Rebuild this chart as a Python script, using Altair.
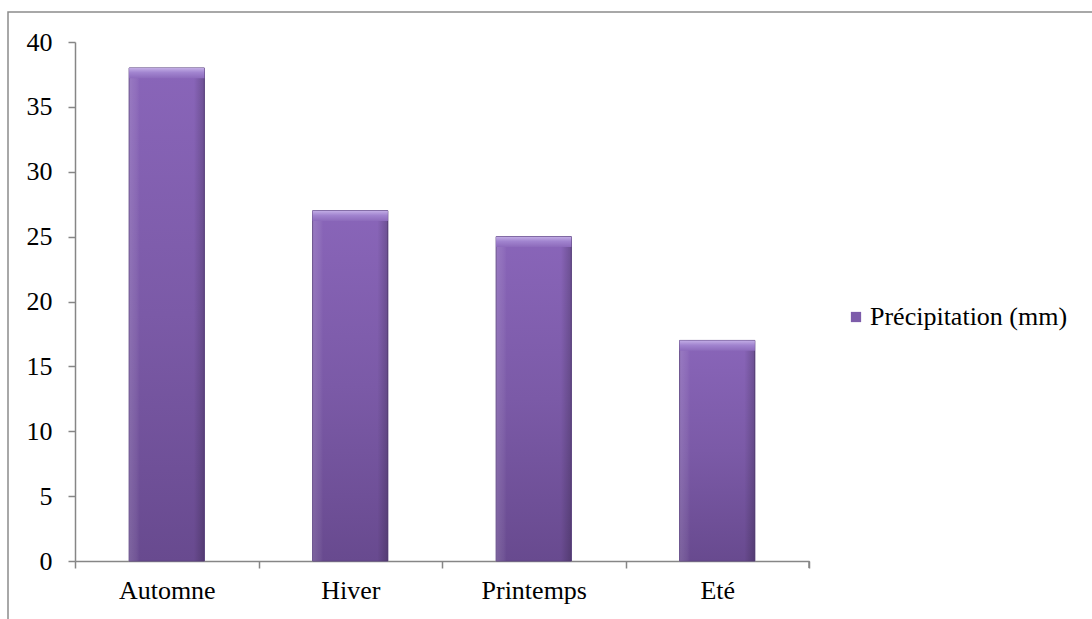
import altair as alt
import pandas as pd

# Seasonal precipitation totals
saisons = ["Automne", "Hiver", "Printemps", "Eté"]
precip_mm = [38, 27, 25, 17]
serie = "Précipitation (mm)"

df = pd.DataFrame({"saison": saisons, "precip": precip_mm, "serie": [serie] * len(saisons)})

W, H = 734, 519
FONT = "Liberation Serif"
FS = 26
AXIS_GREY = "#868686"

x_enc = alt.X(
    "saison:N",
    sort=saisons,
    title=None,
    scale=alt.Scale(paddingInner=0, paddingOuter=0),
    axis=alt.Axis(
        labelAngle=0,
        labelFont=FONT,
        labelFontSize=FS,
        labelColor="black",
        labelPadding=9,
        domainColor=AXIS_GREY,
        domainWidth=1.5,
        tickColor=AXIS_GREY,
        tickWidth=1.5,
        tickSize=7,
        tickBand="extent",
    ),
)
y_enc = alt.Y(
    "precip:Q",
    title=None,
    scale=alt.Scale(domain=[0, 40], nice=False),
    axis=alt.Axis(
        values=list(range(0, 41, 5)),
        grid=False,
        labelFont=FONT,
        labelFontSize=FS,
        labelColor="black",
        labelPadding=16,
        domainColor=AXIS_GREY,
        domainWidth=1.5,
        tickColor=AXIS_GREY,
        tickWidth=1.5,
        tickSize=7,
    ),
)

bar_w = alt.RelativeBandSize(0.41)

# flat bars carry the legend entry
base = alt.Chart(df).mark_bar(width=bar_w).encode(
    x=x_enc,
    y=y_enc,
    color=alt.Color(
        "serie:N",
        title=None,
        scale=alt.Scale(range=["#7D5CAA"]),
        legend=alt.Legend(
            orient="none",
            legendX=768,
            legendY=262,
            symbolType="square",
            symbolSize=105,
            symbolStrokeWidth=0,
            symbolOffset=0,
            labelOffset=1,
            labelFont=FONT,
            labelFontSize=FS,
            labelColor="black",
            labelLimit=300,
        ),
    ),
)

# shaded body of each bar
body = alt.Chart(df).mark_bar(
    width=bar_w,
    stroke="#5E4583",
    strokeWidth=1,
    color=alt.Gradient(
        gradient="linear",
        x1=0, y1=0, x2=0, y2=1,
        stops=[
            alt.GradientStop(color="#8965B9", offset=0),
            alt.GradientStop(color="#7B5AA7", offset=0.5),
            alt.GradientStop(color="#684A8F", offset=1),
        ],
    ),
).encode(x=x_enc, y=y_enc)

# side shading
sides = alt.Chart(df).mark_bar(
    width=bar_w,
    color=alt.Gradient(
        gradient="linear",
        x1=0, y1=0, x2=1, y2=0,
        stops=[
            alt.GradientStop(color="rgba(255,255,255,0.14)", offset=0),
            alt.GradientStop(color="rgba(255,255,255,0.06)", offset=0.1),
            alt.GradientStop(color="rgba(255,255,255,0)", offset=0.14),
            alt.GradientStop(color="rgba(0,0,0,0)", offset=0.86),
            alt.GradientStop(color="rgba(0,0,0,0.2)", offset=1),
        ],
    ),
).encode(x=x_enc, y=y_enc)

# bevelled top cap
cap = alt.Chart(df).transform_calculate(
    cap_low="datum.precip - 0.8"
).mark_bar(
    width=bar_w,
    color=alt.Gradient(
        gradient="linear",
        x1=0, y1=0, x2=0, y2=1,
        stops=[
            alt.GradientStop(color="#C3AEE6", offset=0),
            alt.GradientStop(color="#A184CF", offset=0.45),
            alt.GradientStop(color="#8C6ABB", offset=1),
        ],
    ),
).encode(x=x_enc, y=y_enc, y2="cap_low:Q")

# closing tick at the right end of the category axis
end_tick = alt.Chart(pd.DataFrame({"k": [0]})).mark_rule(
    color=AXIS_GREY, strokeWidth=1.5
).encode(x=alt.value(W), y=alt.value(H), y2=alt.value(H + 7))

# outer frame of the chart area
frame = alt.Chart(pd.DataFrame({"k": [0]})).mark_rect(
    filled=False, stroke="#8C8C8C", strokeWidth=1.5
).encode(
    x=alt.value(-67), x2=alt.value(1100), y=alt.value(-30), y2=alt.value(700)
)

chart = alt.layer(frame, base, body, sides, cap, end_tick).properties(
    width=W,
    height=H,
    autosize=alt.AutoSizeParams(type="none"),
    padding={"left": 75, "top": 42, "right": 283, "bottom": 58},
    background="white",
).configure_view(stroke=None)

chart.save("out.html", embed_options={"renderer": "svg", "actions": False})
